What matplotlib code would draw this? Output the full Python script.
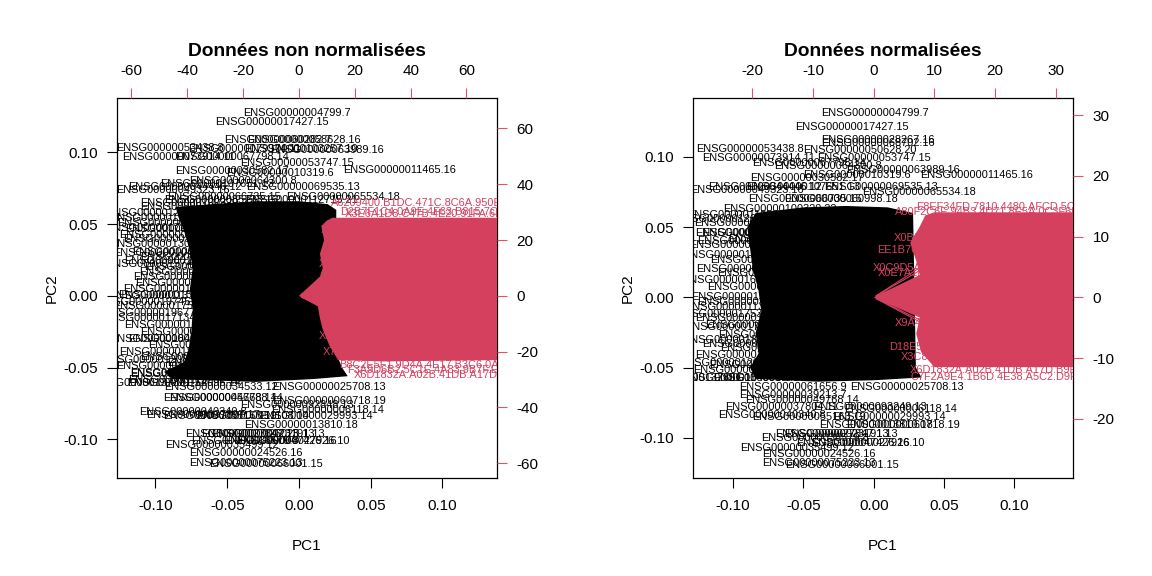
"""
Biplots PCA : données non normalisées vs normalisées.
"""

import matplotlib
matplotlib.use("Agg")
import matplotlib.pyplot as plt

plt.rcParams["font.family"] = ["Liberation Sans", "DejaVu Sans"]
plt.rcParams["axes.unicode_minus"] = False

RED_LINE = "#DF536B"
RED_FILL = "#D5405F"
LABEL_FS = 7.9
TICK_FS = 11

PC_TICKS = [-0.10, -0.05, 0.00, 0.05, 0.10]

# ---------------------------------------------------------------- panel 1 --
raw_title = "Données non normalisées"
raw_xlim = (-0.1268, 0.138)
raw_ylim = (-0.127, 0.138)
raw_ratio = 514.0            # loadings scale / scores scale
raw_load_ticks = [-60, -40, -20, 0, 20, 40, 60]

# dense cloud of overlapping gene labels (outline)
raw_core_x = [-0.086, -0.060, -0.030, 0.000, 0.020, 0.026, 0.026, 0.030, 0.034, 0.010,
              -0.030, -0.060, -0.088, -0.094, -0.080, -0.077, -0.075, -0.074, -0.076,
              -0.074, -0.077, -0.080, -0.084]
raw_core_y = [0.062, 0.064, 0.066, 0.066, 0.064, 0.060, -0.040, -0.050, -0.056, -0.058,
              -0.060, -0.059, -0.058, -0.053, -0.046, -0.038, -0.025, -0.010, 0.005,
              0.020, 0.035, 0.045, 0.055]

raw_genes = ["ENSG00000004799.7", "ENSG00000017427.15", "ENSG00000060282.7", "ENSG00000058628.16",
             "ENSG00000053438.8", "ENSG00000079974.11", "ENSG00000103257.10", "ENSG00000063989.16",
             "ENSG00000073914.11", "ENSG00000067798.14", "ENSG00000053747.15", "ENSG00000011465.16",
             "ENSG00000030582.17", "ENSG00000010319.6", "ENSG00000064300.8", "ENSG00000069535.13",
             "ENSG00000044446.12", "ENSG00000049323.16", "ENSG00000107651.13", "ENSG00000065534.18",
             "ENSG00000066735.15", "ENSG00000100320.22", "ENSG00000085733.16", "ENSG00000112715.21",
             "ENSG00000101096.20", "ENSG00000116962.15", "ENSG00000077522.13", "ENSG00000115414.19",
             "ENSG00000071054.16", "ENSG00000130635.16", "ENSG00000108821.14", "ENSG00000168542.13",
             "ENSG00000142156.15", "ENSG00000164692.18", "ENSG00000139329.5", "ENSG00000149591.17",
             "ENSG00000159251.7", "ENSG00000113140.11", "ENSG00000196776.15", "ENSG00000171345.14",
             "ENSG00000135046.14", "ENSG00000118785.14", "ENSG00000187498.16", "ENSG00000120708.17",
             "ENSG00000166147.14", "ENSG00000134871.19", "ENSG00000137801.11", "ENSG00000154096.14",
             "ENSG00000182492.16", "ENSG00000115252.19", "ENSG00000034533.12", "ENSG00000025708.13",
             "ENSG00000045768.14", "ENSG00000046788.14", "ENSG00000060718.19", "ENSG00000092848.13",
             "ENSG00000006118.14", "ENSG00000040340.8", "ENSG00000037897.17", "ENSG00000055163.19",
             "ENSG00000051108.14", "ENSG00000029993.14", "ENSG00000013810.18", "ENSG00000027847.13",
             "ENSG00000026025.13", "ENSG00000023191.13", "ENSG00000027926.10", "ENSG00000047426.16",
             "ENSG00000038579.8", "ENSG00000035499.12", "ENSG00000024526.16", "ENSG00000075223.13",
             "ENSG00000066001.15",
             "ENSG00000126261.12", "ENSG00000143799.13", "ENSG00000104419.15", "ENSG00000157456.8",
             "ENSG00000165434.7", "ENSG00000197451.10", "ENSG00000175387.16", "ENSG00000111640.15",
             "ENSG00000184009.12", "ENSG00000163902.11", "ENSG00000120875.9", "ENSG00000136942.14",
             "ENSG00000172757.13", "ENSG00000109475.16"]
raw_gene_x = [-0.0016, -0.0190, -0.0146, 0.0035, -0.0899, -0.0380, 0.0012, 0.0195,
              -0.0840, -0.0467, -0.0016, 0.0704, -0.0467, -0.0132, -0.0390, 0.0028,
              -0.0794, -0.0878, -0.0570, 0.0307, -0.0520, -0.0710, -0.0540, 0.0014,
              -0.0709, -0.0920, -0.0870, -0.0815, -0.0860, -0.0920, -0.0767, -0.0710,
              -0.0685, -0.0720, -0.0780, -0.0745, -0.0885, -0.0930, -0.0970, -0.0970,
              -0.0710, -0.0660, -0.0860, -0.0710, -0.0520, -0.0780, -0.1040, -0.0800,
              -0.0780, -0.0800, -0.0546, 0.0209, -0.0550, -0.0505, 0.0209, -0.0016,
              0.0200, -0.0740, -0.0668, -0.0550, -0.0320, 0.0118, 0.0012, -0.0400,
              -0.0285, -0.0216, -0.0040, -0.0132, -0.0376, -0.0537, -0.0371, -0.0371,
              -0.0232,
              -0.0950, -0.0830, -0.0900, -0.0970, -0.0850, -0.1000, -0.0900, -0.0830,
              -0.0920, -0.0800, -0.1000, -0.0880, -0.0950, -0.0820]
raw_gene_y = [0.1276, 0.1213, 0.1088, 0.1088, 0.1030, 0.1025, 0.1025, 0.1018,
              0.0971, 0.0971, 0.0930, 0.0879, 0.0870, 0.0858, 0.0804, 0.0762,
              0.0762, 0.0740, 0.0780, 0.0692, 0.0692, 0.0650, 0.0670, 0.0670,
              0.0623, 0.0544, 0.0509, 0.0467, 0.0425, 0.0363, 0.0309, 0.0274,
              0.0204, 0.0170, 0.0135, 0.0090, 0.0007, 0.0000, -0.0120, -0.0153,
              -0.0249, -0.0340, -0.0388, -0.0423, -0.0467, -0.0537, -0.0607, -0.0607,
              -0.0544, -0.0586, -0.0632, -0.0632, -0.0709, -0.0709, -0.0732, -0.0760,
              -0.0795, -0.0809, -0.0830, -0.0837, -0.0837, -0.0837, -0.0900, -0.0965,
              -0.0965, -0.0965, -0.1011, -0.1011, -0.1011, -0.1041, -0.1099, -0.1162,
              -0.1171,
              0.0580, 0.0400, 0.0300, 0.0220, 0.0050, -0.0040, -0.0070, -0.0200,
              -0.0300, -0.0300, -0.0450, -0.0490, 0.0475, 0.0245]

# fan of sample arrows + labels (outline, loadings scale)
raw_fan_x = [0, 7.5, 8.5, 7.5, 9.0, 8.0, 10.0, 12.0, 72.0, 72.0, 30.0, 14.0, 11.0, 8.5, 7.5, 6.8, 0]
raw_fan_y = [0, 6.9, 10.0, 15.0, 20.0, 25.0, 27.0, 28.0, 28.0, -23.0, -23.5, -23.0, -18.0, -12.0,
             -8.0, -3.8, 0]

raw_samples = ["A6209400.B1DC.471C.8C6A.950E2F7B13D4", "D2B7F1C4.0A9E.4F63.B815.7C4E92D0A1F3",
               "X3E6A1D8.C47B.4E20.91FA.6B0D3C8E7F25", "X0C9D5A2.81F0.4B7E.9C3D.6E21F0A84B57",
               "X1F4B8E6.3D2C.47A9.B0E1.5C8F7A2D9E46", "X2A7C3F9.E5B1.4D08.A6C4.1F9E3B7D0C82",
               "X4B9E2D7.6F1A.4C35.8E0B.9A2D5F1C7E63", "X5D3A8C1.B7E4.4F92.A1D6.3E8B0C5F2A19",
               "X7E1C9B4.2A6D.4B80.9F3E.C5A1D7E0B248", "B8C2E5F1.9D4A.4E17.B3C6.0A8F2D9E5C71",
               "F3A9D6B2.5C1E.4A83.9B7F.E2D0C4A6B815", "X6D1832A.A02B.41DB.A17D.B9E3C2F15A70"]
raw_sample_x = [51.6, 54.8, 56.6, 48.0, 49.0, 47.5, 48.5, 47.5, 49.0, 55.0, 57.5, 60.0]
raw_sample_y = [33.3, 30.2, 29.4, 23.5, 17.0, 11.5, -9.0, -14.5, -20.0, -24.7, -26.5, -28.3]

# ---------------------------------------------------------------- panel 2 --
norm_title = "Données normalisées"
norm_xlim = (-0.1288, 0.142)
norm_ylim = (-0.1283, 0.142)
norm_ratio = 231.5
norm_load_ticks = [-20, -10, 0, 10, 20, 30]

norm_core_x = [-0.084, -0.050, -0.020, 0.010, 0.028, 0.030, 0.034, 0.000, -0.040, -0.084,
               -0.088, -0.082, -0.084, -0.080, -0.082, -0.086, -0.088, -0.090]
norm_core_y = [0.060, 0.064, 0.065, 0.064, 0.060, -0.050, -0.057, -0.059, -0.060, -0.058,
               -0.050, -0.040, -0.025, -0.010, 0.005, 0.020, 0.035, 0.050]

norm_genes = ["ENSG00000004799.7", "ENSG00000017427.15", "ENSG00000028267.16", "ENSG00000068702.16",
              "ENSG00000053438.8", "ENSG00000050628.20", "ENSG00000073914.11", "ENSG00000053747.15",
              "ENSG00000067798.14", "ENSG00000064300.8", "ENSG00000063989.16", "ENSG00000010319.6",
              "ENSG00000011465.16", "ENSG00000030582.17", "ENSG00000069535.13", "ENSG00000044446.12",
              "ENSG00000107651.13", "ENSG00000049323.16", "ENSG00000065534.18", "ENSG00000060998.18",
              "ENSG00000066735.15", "ENSG00000100320.22", "ENSG00000116962.15", "ENSG00000077522.13",
              "ENSG00000115414.19", "ENSG00000071054.16", "ENSG00000108821.14", "ENSG00000130635.16",
              "ENSG00000168542.13", "ENSG00000142156.15", "ENSG00000149591.17", "ENSG00000159251.7",
              "ENSG00000113140.11", "ENSG00000196776.15", "ENSG00000171345.14", "ENSG00000135046.14",
              "ENSG00000118785.14", "ENSG00000187498.16", "ENSG00000120708.17", "ENSG00000137801.11",
              "ENSG00000154096.14", "ENSG00000134871.19", "ENSG00000061656.9", "ENSG00000025708.13",
              "ENSG00000039213.7", "ENSG00000049768.14", "ENSG00000037804.11", "ENSG00000093249.13",
              "ENSG00000006118.14", "ENSG00000040340.8", "ENSG00000055163.19", "ENSG00000029993.14",
              "ENSG00000060718.19", "ENSG00000013810.18", "ENSG00000027847.13", "ENSG00000023191.13",
              "ENSG00000038579.8", "ENSG00000027926.10", "ENSG00000047426.16", "ENSG00000035499.12",
              "ENSG00000024526.16", "ENSG00000075223.13", "ENSG00000066001.15",
              "ENSG00000126261.12", "ENSG00000143799.13", "ENSG00000104419.15", "ENSG00000157456.8",
              "ENSG00000165434.7", "ENSG00000197451.10", "ENSG00000175387.16", "ENSG00000111640.15",
              "ENSG00000184009.12", "ENSG00000163902.11", "ENSG00000120875.9", "ENSG00000136942.14"]
norm_gene_x = [0.0009, -0.0157, 0.0033, 0.0033, -0.0880, -0.0097, -0.0817, 0.0004,
               -0.0460, -0.0326, 0.0209, -0.0119, 0.0730, -0.0473, 0.0052, -0.0774,
               -0.0500, -0.0900, 0.0325, -0.0233, -0.0490, -0.0667, -0.0930, -0.0875,
               -0.0866, -0.0816, -0.0630, -0.0910, -0.0760, -0.0710, -0.0780, -0.0920,
               -0.0940, -0.0866, -0.0937, -0.0700, -0.0688, -0.0866, -0.0769, -0.1240,
               -0.0950, -0.0740, -0.0574, 0.0237, -0.0574, -0.0507, -0.0655, -0.0026,
               0.0194, -0.0726, -0.0460, 0.0111, 0.0211, 0.0014, -0.0299, -0.0233,
               -0.0418, -0.0043, -0.0149, -0.0548, -0.0389, -0.0389, -0.0226,
               -0.1000, -0.0850, -0.0950, -0.0880, -0.0980, -0.0850, -0.1000, -0.0800,
               -0.0950, -0.0820, -0.1000, -0.0880]
norm_gene_y = [0.1311, 0.1209, 0.1119, 0.1095, 0.1055, 0.1045, 0.0991, 0.0991,
               0.0953, 0.0933, 0.0905, 0.0868, 0.0868, 0.0846, 0.0787, 0.0787,
               0.0787, 0.0763, 0.0751, 0.0699, 0.0699, 0.0626, 0.0585, 0.0526,
               0.0455, 0.0455, 0.0413, 0.0372, 0.0265, 0.0171, 0.0075, 0.0000,
               -0.0071, -0.0149, -0.0209, -0.0268, -0.0363, -0.0410, -0.0482, -0.0576,
               -0.0576, -0.0576, -0.0640, -0.0640, -0.0695, -0.0730, -0.0778, -0.0778,
               -0.0794, -0.0837, -0.0849, -0.0849, -0.0908, -0.0908, -0.0972, -0.0972,
               -0.1003, -0.1038, -0.1038, -0.1074, -0.1115, -0.1176, -0.1193,
               0.0560, 0.0400, 0.0300, 0.0200, 0.0120, -0.0030, -0.0120, -0.0200,
               -0.0300, -0.0330, -0.0470, -0.0520]

norm_fan_x = [0, 7.6, 7.0, 6.0, 7.5, 8.5, 10.0, 33.5, 33.5, 10.0, 7.8, 7.0, 7.6, 0]
norm_fan_y = [0, 3.7, 6.0, 9.0, 11.5, 13.5, 14.0, 14.0, -11.5, -11.5, -9.0, -6.0, -3.2, 0]

norm_samples = ["E8EF34FD.7810.4480.AFCD.5C2A91B7E04D", "A80F2C6E.94B3.4D71.8E5A.0C3F6B1D9A27",
                "X0B6D4E2.7A9C.4F15.B3E8.2D1C6A9F0E54", "EE1B7C3A.5F2D.4A96.8C0E.B4D7F1A3E692",
                "X0C9D5A2.81F0.4B7E.9C3D.6E21F0A84B57", "X0E7A1F5.C3B8.4D62.9A4F.1E5C8B0D7A36",
                "X9A4F6C2.D8E1.4B57.A2C9.7F3E0D1B6C84", "D18E5B7C.4A2F.4C93.B6D1.8E0A3F5C2D79",
                "X3C8B1E6.F2A7.4D04.9E5C.A1B6D3F8C052", "X6D1832A.A02B.41DB.A17D.B9E3C2F15A70",
                "C7F2A9E4.1B6D.4E38.A5C2.D9F0B3E7A416"]
norm_sample_x = [25.6, 21.9, 21.9, 19.2, 18.3, 19.2, 22.1, 21.1, 23.1, 24.6, 24.6]
norm_sample_y = [14.9, 14.1, 9.8, 7.8, 4.8, 4.0, -4.2, -8.1, -9.8, -12.0, -13.1]


def fmt2(v):
    return f"{v:.2f}"


def draw_panel(fig, rect, title, xlim, ylim, ratio, load_ticks,
               core_x, core_y, genes, gx, gy, fan_x, fan_y, samples, sx, sy):
    # --- scores (genes) -----------------------------------------------------
    ax = fig.add_axes(rect)
    ax.set_xlim(xlim)
    ax.set_ylim(ylim)
    ax.fill(core_x, core_y, color="black", lw=0)
    for name, x, y in zip(genes, gx, gy):
        ax.text(x, y, name, fontsize=LABEL_FS, ha="center", va="center", clip_on=True)

    ax.set_xticks(PC_TICKS)
    ax.set_yticks(PC_TICKS)
    ax.set_xticklabels([fmt2(t) for t in PC_TICKS])
    ax.set_yticklabels([fmt2(t) for t in PC_TICKS])
    ax.tick_params(axis="x", direction="out", length=7, width=0.8, pad=8, labelsize=TICK_FS)
    ax.tick_params(axis="y", direction="out", length=7, width=0.8, pad=6.5, labelsize=TICK_FS)
    for spine in ax.spines.values():
        spine.set_linewidth(0.9)

    # --- loadings (samples) -------------------------------------------------
    ax2 = fig.add_axes(rect, frameon=False)
    ax2.set_xlim(xlim[0] * ratio, xlim[1] * ratio)
    ax2.set_ylim(ylim[0] * ratio, ylim[1] * ratio)
    ax2.fill(fan_x, fan_y, color=RED_FILL, lw=0)
    for name, x, y in zip(samples, sx, sy):
        ax2.annotate("", xy=(0.8 * x, 0.8 * y), xytext=(0, 0),
                     arrowprops=dict(arrowstyle="->", color=RED_FILL, lw=0.8),
                     annotation_clip=True)
        ax2.text(x, y, name, fontsize=LABEL_FS, color=RED_FILL, ha="center", va="center",
                 clip_on=True)

    ax2.xaxis.tick_top()
    ax2.yaxis.tick_right()
    ax2.set_xticks(load_ticks)
    ax2.set_yticks(load_ticks)
    ax2.tick_params(axis="x", direction="out", length=7, width=0.8, pad=7.5,
                    labelsize=TICK_FS, color=RED_LINE)
    ax2.tick_params(axis="y", direction="out", length=7, width=0.8, pad=7,
                    labelsize=TICK_FS, color=RED_LINE)

    # --- texts --------------------------------------------------------------
    cx = rect[0] + rect[2] / 2
    fig.text(cx, 1 - 56 / 576, title, ha="center", va="baseline",
             fontsize=13.8, fontweight="bold")
    fig.text(cx, 1 - 546 / 576, "PC1", ha="center", va="center", fontsize=TICK_FS)
    fig.text(rect[0] - 65 / 1152, rect[1] + rect[3] / 2, "PC2", ha="center", va="center",
             rotation=90, fontsize=TICK_FS)


def run():
    fig = plt.figure(figsize=(11.52, 5.76), dpi=100)
    fig.patch.set_facecolor("white")

    draw_panel(fig, [117 / 1152, 1 - 478 / 576, 380 / 1152, 380 / 576], raw_title,
               raw_xlim, raw_ylim, raw_ratio, raw_load_ticks,
               raw_core_x, raw_core_y, raw_genes, raw_gene_x, raw_gene_y,
               raw_fan_x, raw_fan_y, raw_samples, raw_sample_x, raw_sample_y)

    draw_panel(fig, [692.7 / 1152, 1 - 477.7 / 576, 380.6 / 1152, 380 / 576], norm_title,
               norm_xlim, norm_ylim, norm_ratio, norm_load_ticks,
               norm_core_x, norm_core_y, norm_genes, norm_gene_x, norm_gene_y,
               norm_fan_x, norm_fan_y, norm_samples, norm_sample_x, norm_sample_y)

    fig.savefig("out.png", dpi=100, facecolor="white")
    plt.close(fig)


if __name__ == "__main__":
    run()
